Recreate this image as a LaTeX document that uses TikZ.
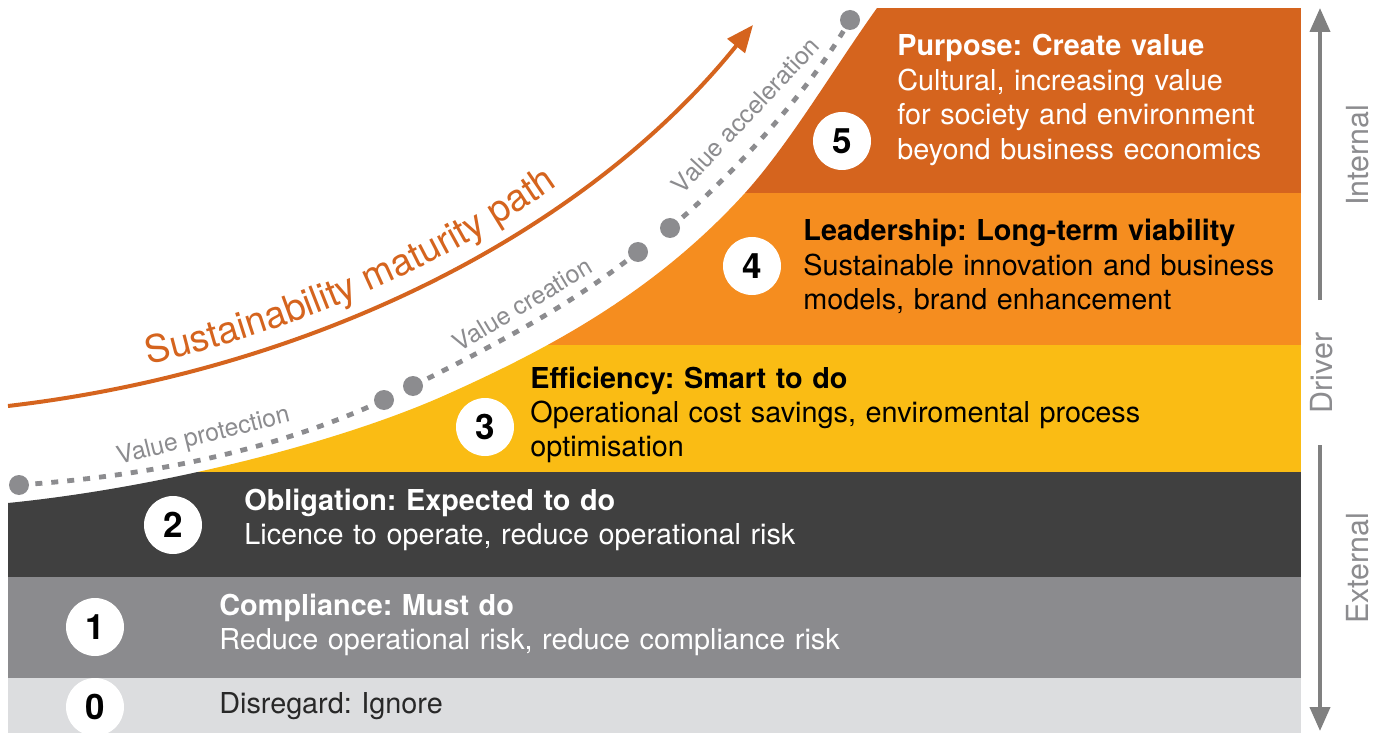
\documentclass[tikz,border=0pt]{standalone}
\usepackage{fontspec}
\setmainfont{TeX Gyre Heros}
\usetikzlibrary{arrows.meta,decorations.text}
\definecolor{lvlfive}{RGB}{213,100,30}
\definecolor{lvlfour}{RGB}{245,141,31}
\definecolor{lvlthree}{RGB}{250,188,20}
\definecolor{lvltwo}{RGB}{64,64,64}
\definecolor{lvlone}{RGB}{139,139,142}
\definecolor{lvlzero}{RGB}{220,221,223}
\definecolor{lvlzerotext}{RGB}{40,40,40}
\definecolor{pathgray}{RGB}{140,140,143}
\definecolor{axisgray}{RGB}{128,128,128}

\begin{document}
\frenchspacing
\begin{tikzpicture}[x=0.5pt,y=-0.5pt,
  num/.style={circle,fill=white,minimum size=29pt,inner sep=0pt,font=\fontsize{17.5}{20}\selectfont\bfseries},
  lvltext/.style={anchor=base west,inner sep=0pt,align=left,text width=340pt,font=\fontsize{14.4}{17.2}\selectfont},
  stage/.style={circle,fill=pathgray,minimum size=10pt,inner sep=0pt},
  stageline/.style={pathgray,line width=2.4pt,dash pattern=on 3.5pt off 4.5pt,dash phase=5pt},
  valuelabel/.style={anchor=base,inner sep=0pt,text=pathgray,font=\fontsize{12.4}{14}\selectfont},
  axis/.style={axisgray,line width=2pt,-{Triangle[length=12pt,width=10pt]}},
  axislabel/.style={rotate=90,inner sep=0pt,text=pathgray,font=\fontsize{15.2}{17}\selectfont}]
  \useasboundingbox (0,0) rectangle (1383,733);
  \clip (0,0) rectangle (1383,733);
  \fill[white] (0,0) rectangle (1383,733);
  % the six levels, cut by the curve on the left
  \begin{scope}
    \clip (8,503) .. controls (158,488) and (340,443) .. (450,393)
      .. controls (550,348) and (655,292) .. (745,193)
      .. controls (790,143) and (832,71) .. (877,8)
      -- (1301,8) -- (1301,733) -- (8,733) -- cycle;
    \foreach \ya/\yb/\col in {8/193/lvlfive,193/345/lvlfour,345/472/lvlthree,
      472/577/lvltwo,577/678/lvlone,678/733/lvlzero}
      \fill[\col] (8,\ya) rectangle (1301,\yb);
  \end{scope}
  % level numbers
  \foreach \n/\x/\y in {0/95/707,1/95/627,2/173/525,3/485/427,4/752/266,5/842/141}
    \node[num] (c\n) at (\x,\y) {\n};
  % level texts
  \node[lvltext,text=white] (t5) at (897,56) {\textbf{Purpose: Create value}\\Cultural, increasing value\\for society and environment\\beyond business economics};
  \node[lvltext] (t4) at (803,241) {\textbf{Leadership: Long-term viability}\\Sustainable innovation and business\\models, brand enhancement};
  \node[lvltext] (t3) at (530,388) {\textbf{Efficiency: Smart to do}\\Operational cost savings, enviromental process\\optimisation};
  \node[lvltext,text=white] (t2) at (244,510) {\textbf{Obligation: Expected to do}\\Licence to operate, reduce operational risk};
  \node[lvltext,text=white] (t1) at (219,615) {\textbf{Compliance: Must do}\\Reduce operational risk, reduce compliance risk};
  \node[lvltext,text=lvlzerotext] (t0) at (219,713) {Disregard: Ignore};
  % value stages along the dotted path
  \foreach \i/\x/\y in {0/19/485,1/384/400,2/413/386,3/638/252,4/670/228,5/850/20}
    \node[stage] (d\i) at (\x,\y) {};
  \draw[stageline] (d0) .. controls (139,476) and (264,454) .. (d1);
  \draw[stageline] (d2) .. controls (488,348) and (563,310) .. (d3);
  \draw[stageline] (d4) .. controls (730,177) and (805,96) .. (d5);
  \node[valuelabel,rotate=14] (vprot) at (205,443) {Value protection};
  \node[valuelabel,rotate=31] (vcrea) at (527,312) {Value creation};
  \node[valuelabel,rotate=47] (vaccel) at (752,121) {Value acceleration};
  % maturity arrow
  \coordinate (mstart) at (8,406);
  \coordinate (mend) at (753,25);
  \draw[lvlfive,line width=2pt,-{Triangle[length=13.5pt,width=11pt]}]
    (mstart) .. controls (308,371) and (583,236) .. (mend);
  \path[decorate,decoration={text along path,text align={left indent=74pt},
      text={|\color{lvlfive}\fontsize{18.8}{20}\selectfont|Sustainability maturity path}}]
    (3,390) .. controls (303,355) and (578,220) .. (748,9);
  % driver axis
  \coordinate (intop) at (1320,8);
  \coordinate (infoot) at (1320,300);
  \coordinate (extop) at (1320,445);
  \coordinate (exfoot) at (1320,731);
  \draw[axis] (infoot) -- (intop);
  \draw[axis] (extop) -- (exfoot);
  \node[axislabel] (internal) at (1358,155) {Internal};
  \node[axislabel] (driver) at (1322,373) {Driver};
  \node[axislabel] (external) at (1358,568) {External};
\end{tikzpicture}
\end{document}
